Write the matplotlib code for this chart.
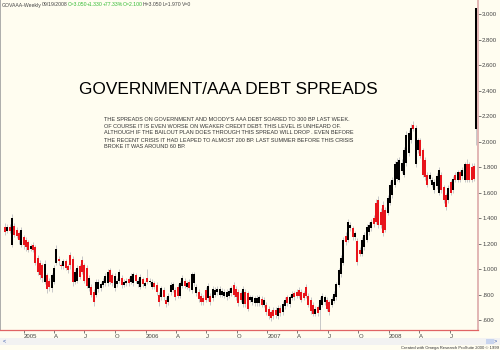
import numpy as np
import pandas as pd
import matplotlib
matplotlib.use("Agg")
import matplotlib.pyplot as plt
import matplotlib.dates as mdates

plt.rcParams['font.family'] = ['Liberation Sans', 'DejaVu Sans']

# ---- weekly GOVAAA spread data ----
weeks = pd.date_range("2004-11-05", periods=203, freq="W-FRI")

opens = [
    1.33, 1.30, 1.33, 1.19, 1.34, 1.31, 1.28, 1.19, 1.25, 1.23,
    1.21, 1.16, 1.19, 1.17, 1.09, 1.05, 1.03, 0.90, 0.95, 0.91,
    0.85, 0.90, 1.05, 1.08, 1.03, 1.02, 1.06, 1.02, 1.11, 1.08,
    0.90, 0.91, 1.02, 1.07, 1.03, 1.01, 0.85, 0.86, 0.82, 0.80,
    0.84, 0.85, 0.875, 0.89, 0.89, 0.99, 0.95, 0.85, 0.88, 0.91,
    0.93, 0.875, 0.89, 0.92, 0.90, 0.89, 0.95, 0.88, 0.86, 0.92,
    0.87, 0.93, 0.90, 0.86, 0.89, 0.875, 0.80, 0.78, 0.835, 0.757,
    0.74, 0.82, 0.835, 0.835, 0.86, 0.79, 0.87, 0.91, 0.86, 0.90,
    0.835, 0.89, 0.81, 0.82, 0.79, 0.775, 0.835, 0.775, 0.79, 0.775,
    0.80, 0.82, 0.796, 0.80, 0.79, 0.78, 0.79, 0.81, 0.875, 0.845,
    0.82, 0.81, 0.725, 0.82, 0.81, 0.757, 0.74, 0.735, 0.735, 0.735,
    0.765, 0.72, 0.72, 0.69, 0.66, 0.68, 0.68, 0.63, 0.695, 0.665,
    0.71, 0.78, 0.725, 0.775, 0.81, 0.82, 0.835, 0.82, 0.81, 0.86,
    0.79, 0.757, 0.72, 0.65, 0.70, 0.68, 0.72, 0.74, 0.757, 0.74,
    0.72, 0.75, 0.78, 0.875, 0.96, 1.05, 1.26, 1.23, 1.32, 1.32,
    1.25, 1.22, 1.15, 1.12, 1.17, 1.23, 1.29, 1.32, 1.40, 1.52,
    1.54, 1.45, 1.50, 1.46, 1.44, 1.52, 1.58, 1.66, 1.71, 1.70,
    1.77, 1.74, 1.83, 1.91, 2.01, 2.13, 1.82, 1.93, 2.01, 1.93,
    1.855, 1.74, 1.71, 1.66, 1.62, 1.65, 1.60, 1.74, 1.64, 1.58,
    1.54, 1.68, 1.62, 1.74, 1.70, 1.76, 1.73, 1.70, 1.82, 1.82,
    1.80, 1.81, 2.10,
]
closes = [
    1.29, 1.33, 1.30, 1.40, 1.27, 1.26, 1.23, 1.31, 1.19, 1.17,
    1.15, 1.18, 1.15, 1.05, 0.98, 0.95, 0.93, 1.04, 0.84, 0.86,
    0.95, 1.01, 1.16, 1.06, 1.02, 1.06, 1.01, 0.99, 1.03, 0.90,
    0.98, 1.01, 0.94, 0.98, 0.91, 0.87, 0.93, 0.80, 0.74, 0.90,
    0.90, 0.88, 0.91, 0.945, 0.98, 0.90, 0.89, 0.945, 0.91, 0.98,
    0.875, 0.90, 0.91, 0.89, 0.945, 0.96, 0.91, 0.905, 0.94, 0.88,
    0.89, 0.90, 0.91, 0.90, 0.86, 0.82, 0.74, 0.85, 0.78, 0.725,
    0.79, 0.875, 0.88, 0.78, 0.79, 0.89, 0.93, 0.87, 0.89, 0.85,
    0.96, 0.96, 0.86, 0.765, 0.74, 0.74, 0.757, 0.87, 0.74, 0.845,
    0.835, 0.845, 0.845, 0.83, 0.82, 0.82, 0.83, 0.85, 0.80, 0.78,
    0.735, 0.757, 0.845, 0.725, 0.69, 0.78, 0.78, 0.775, 0.775, 0.78,
    0.72, 0.757, 0.665, 0.63, 0.615, 0.63, 0.64, 0.695, 0.655, 0.725,
    0.757, 0.735, 0.78, 0.805, 0.78, 0.79, 0.79, 0.757, 0.775, 0.79,
    0.72, 0.67, 0.65, 0.69, 0.655, 0.757, 0.79, 0.78, 0.69, 0.665,
    0.765, 0.805, 0.88, 0.99, 1.09, 1.23, 1.21, 1.37, 1.345, 1.25,
    1.28, 1.055, 1.12, 1.23, 1.27, 1.33, 1.345, 1.37, 1.35, 1.37,
    1.345, 1.345, 1.28, 1.31, 1.56, 1.66, 1.70, 1.82, 1.84, 1.855,
    1.83, 1.93, 2.05, 2.07, 2.11, 2.10, 2.11, 2.01, 1.89, 1.74,
    1.72, 1.66, 1.74, 1.70, 1.685, 1.73, 1.78, 1.62, 1.54, 1.49,
    1.635, 1.60, 1.71, 1.70, 1.76, 1.70, 1.78, 1.82, 1.70, 1.70,
    1.70, 1.71, 3.05,
]
highs = [
    1.36, 1.35, 1.35, 1.43, 1.36, 1.33, 1.30, 1.33, 1.27, 1.25,
    1.23, 1.20, 1.21, 1.19, 1.11, 1.07, 1.05, 1.07, 0.97, 0.93,
    0.97, 1.03, 1.19, 1.10, 1.05, 1.08, 1.08, 1.04, 1.13, 1.10,
    1.00, 1.03, 1.04, 1.10, 1.05, 1.03, 0.95, 0.88, 0.84, 0.92,
    0.92, 0.90, 0.93, 0.97, 1.00, 1.01, 0.97, 0.97, 0.93, 1.00,
    0.95, 0.92, 0.93, 0.94, 0.97, 0.98, 0.97, 0.93, 0.96, 0.94,
    0.91, 1.00, 0.93, 0.92, 0.91, 0.90, 0.82, 0.87, 0.86, 0.78,
    0.81, 0.90, 0.90, 0.86, 0.88, 0.91, 0.95, 0.93, 0.91, 0.92,
    0.98, 0.98, 0.88, 0.84, 0.81, 0.80, 0.86, 0.89, 0.81, 0.87,
    0.86, 0.87, 0.87, 0.85, 0.84, 0.84, 0.85, 0.87, 0.90, 0.87,
    0.84, 0.83, 0.87, 0.84, 0.83, 0.80, 0.80, 0.79, 0.80, 0.80,
    0.79, 0.78, 0.74, 0.71, 0.68, 0.70, 0.70, 0.72, 0.72, 0.75,
    0.78, 0.80, 0.80, 0.83, 0.83, 0.84, 0.86, 0.84, 0.83, 0.88,
    0.81, 0.78, 0.74, 0.71, 0.72, 0.78, 0.81, 0.80, 0.78, 0.76,
    0.79, 0.83, 0.90, 1.01, 1.11, 1.25, 1.29, 1.39, 1.37, 1.34,
    1.30, 1.24, 1.17, 1.25, 1.29, 1.35, 1.37, 1.39, 1.42, 1.55,
    1.57, 1.48, 1.53, 1.49, 1.58, 1.69, 1.72, 1.85, 1.87, 1.88,
    1.86, 1.96, 2.08, 2.09, 2.14, 2.16, 2.13, 2.03, 2.03, 1.95,
    1.88, 1.76, 1.76, 1.72, 1.71, 1.75, 1.80, 1.76, 1.66, 1.60,
    1.66, 1.70, 1.73, 1.76, 1.78, 1.78, 1.80, 1.84, 1.86, 1.84,
    1.83, 1.83, 3.05,
]
lows = [
    1.27, 1.28, 1.28, 1.17, 1.25, 1.24, 1.20, 1.17, 1.16, 1.14,
    1.13, 1.14, 1.13, 1.03, 0.95, 0.92, 0.90, 0.88, 0.81, 0.83,
    0.82, 0.88, 1.03, 1.03, 1.00, 1.00, 0.99, 0.97, 1.00, 0.87,
    0.88, 0.89, 0.92, 0.96, 0.89, 0.85, 0.83, 0.78, 0.71, 0.78,
    0.82, 0.83, 0.86, 0.87, 0.87, 0.88, 0.87, 0.83, 0.86, 0.89,
    0.85, 0.86, 0.87, 0.87, 0.88, 0.87, 0.89, 0.86, 0.84, 0.86,
    0.85, 0.88, 0.88, 0.84, 0.84, 0.80, 0.71, 0.76, 0.76, 0.70,
    0.72, 0.80, 0.82, 0.76, 0.77, 0.77, 0.85, 0.85, 0.84, 0.83,
    0.81, 0.87, 0.79, 0.74, 0.72, 0.72, 0.74, 0.75, 0.72, 0.75,
    0.78, 0.80, 0.78, 0.78, 0.77, 0.76, 0.77, 0.79, 0.78, 0.76,
    0.71, 0.74, 0.70, 0.70, 0.67, 0.74, 0.72, 0.71, 0.71, 0.71,
    0.70, 0.70, 0.64, 0.61, 0.59, 0.61, 0.62, 0.61, 0.63, 0.64,
    0.69, 0.71, 0.70, 0.76, 0.76, 0.77, 0.77, 0.74, 0.76, 0.77,
    0.70, 0.65, 0.63, 0.63, 0.63, 0.45, 0.70, 0.72, 0.67, 0.64,
    0.70, 0.73, 0.76, 0.86, 0.94, 1.03, 1.19, 1.21, 1.30, 1.23,
    1.23, 1.03, 1.10, 1.10, 1.15, 1.21, 1.27, 1.30, 1.33, 1.35,
    1.32, 1.32, 1.26, 1.29, 1.42, 1.50, 1.56, 1.64, 1.69, 1.68,
    1.75, 1.72, 1.81, 1.89, 1.99, 2.08, 1.80, 1.91, 1.87, 1.72,
    1.70, 1.64, 1.69, 1.64, 1.60, 1.63, 1.58, 1.60, 1.52, 1.46,
    1.52, 1.58, 1.60, 1.68, 1.68, 1.68, 1.71, 1.68, 1.68, 1.68,
    1.68, 1.69, 1.97,
]

y_ticks = [0.6, 0.8, 1.0, 1.2, 1.4, 1.6, 1.8, 2.0, 2.2, 2.4, 2.6, 2.8, 3.0]
y_tick_labels = [".600", ".800", "1.000", "1.200", "1.400", "1.600", "1.800",
                 "2.000", "2.200", "2.400", "2.600", "2.800", "3.000"]
x_tick_dates = ["2005-01-01", "2005-04-01", "2005-07-01", "2005-10-01",
                "2006-01-01", "2006-04-01", "2006-07-01", "2006-10-01",
                "2007-01-01", "2007-04-01", "2007-07-01", "2007-10-01",
                "2008-01-01", "2008-04-01", "2008-07-01"]
x_tick_labels = ["2005", "A", "J", "O", "2006", "A", "J", "O",
                 "2007", "A", "J", "O", "2008", "A", "J"]

note_lines = [
    "THE SPREADS ON GOVERNMENT AND MOODY'S AAA DEBT SOARED TO 300 BP LAST WEEK.",
    "OF COURSE IT IS EVEN WORSE ON WEAKER CREDIT DEBT. THIS LEVEL IS UNHEARD OF.",
    "ALTHOUGH IF THE BAILOUT PLAN DOES THROUGH THIS SPREAD WILL DROP . EVEN BEFORE",
    "THE RECENT CRISIS IT HAD LEAPED TO ALMOST 200 BP. LAST SUMMER BEFORE THIS CRISIS",
    "BROKE IT WAS AROUND 60 BP.",
]

# ---- figure ----
BG = "#FFFDF0"
W, H = 500, 350
fig = plt.figure(figsize=(5, 3.5), dpi=100, facecolor=BG)

ax = fig.add_axes([0.0, 20 / H, 478 / W, 330 / H])
ax.set_facecolor(BG)

x = mdates.date2num(weeks)
o = np.array(opens)
c = np.array(closes)
up = c >= o

# wicks
ax.vlines(x, lows, highs, color="#C8C8C8", linewidth=0.7, zorder=1)
# bodies
body_lo = np.minimum(o, c)
body_hi = np.maximum(o, c)
ax.vlines(x[up], body_lo[up], body_hi[up], color="black", linewidth=1.45, zorder=2)
ax.vlines(x[~up], body_lo[~up], body_hi[~up], color="#E8141B", linewidth=1.45, zorder=2)

ax.set_ylim(0.522, 3.11)
x0 = mdates.date2num(pd.Timestamp("2004-10-21"))
ax.set_xlim(x0, x0 + 1434)

# axes styling
ax.spines["top"].set_visible(False)
ax.spines["left"].set_color("#A0A0A0")
ax.spines["left"].set_linewidth(1.2)
ax.spines["bottom"].set_color("#E06464")
ax.spines["bottom"].set_linewidth(0.9)
ax.spines["right"].set_color("#DDAAAA")
ax.spines["right"].set_linewidth(1.2)

ax.yaxis.tick_right()
ax.set_yticks(y_ticks)
ax.set_yticklabels(y_tick_labels)
ax.tick_params(axis="y", direction="out", length=2, width=0.5, pad=1,
               labelsize=4.3, colors="#444444")

ax.set_xticks(mdates.date2num(pd.to_datetime(x_tick_dates)))
ax.set_xticklabels(x_tick_labels)
ax.tick_params(axis="x", direction="out", length=2, width=0.5, pad=1,
               labelsize=4.3, colors="#444444")
for lab in ax.get_xticklabels():
    lab.set_ha("left")

# ---- texts ----
def px(xp, yp):
    return xp / W, 1 - yp / H

fig.text(*px(228, 90), "GOVERNMENT/AAA DEBT SPREADS", fontsize=12.4,
         ha="center", va="center", color="black")

for k, line in enumerate(note_lines):
    fig.text(*px(104, 119 + 7 * k), line, fontsize=3.95, ha="left",
             va="center", color="#333333")

header = [
    (2, "GOVAAA-Weekly", "#444444"),
    (42, "09/19/2008", "#444444"),
    (68, "C=3.050", "#33BB33"),
    (87, "+1.330", "#33BB33"),
    (103, "+77.33%", "#33BB33"),
    (123, "O=2.100", "#33BB33"),
    (143, "H=3.050", "#444444"),
    (163, "L=1.970", "#444444"),
    (182, "V=0", "#444444"),
]
for xp, txt, col in header:
    fig.text(*px(xp, 5), txt, fontsize=3.7, ha="left", va="center", color=col)

# scroll bar strip and footer
fig.patches.append(plt.Rectangle(px(0, 345), 1, 7 / H, transform=fig.transFigure,
                                 facecolor="#F2F2F2", edgecolor="none", zorder=0))
fig.patches.append(plt.Rectangle(px(486, 344), 8 / W, 5 / H, transform=fig.transFigure,
                                 facecolor="#C8D4EE", edgecolor="none", zorder=1))
fig.text(*px(3, 341), "<", fontsize=4, ha="left", va="center", color="#3355AA")
fig.text(*px(497, 341), ">", fontsize=4, ha="right", va="center", color="#3355AA")
fig.text(*px(499, 347.5), "Created with Omega Research ProSuite 2000 \u00a9 1999",
         fontsize=3.0, ha="right", va="center", color="#333333")

fig.savefig("out.png", dpi=100, facecolor=BG)
